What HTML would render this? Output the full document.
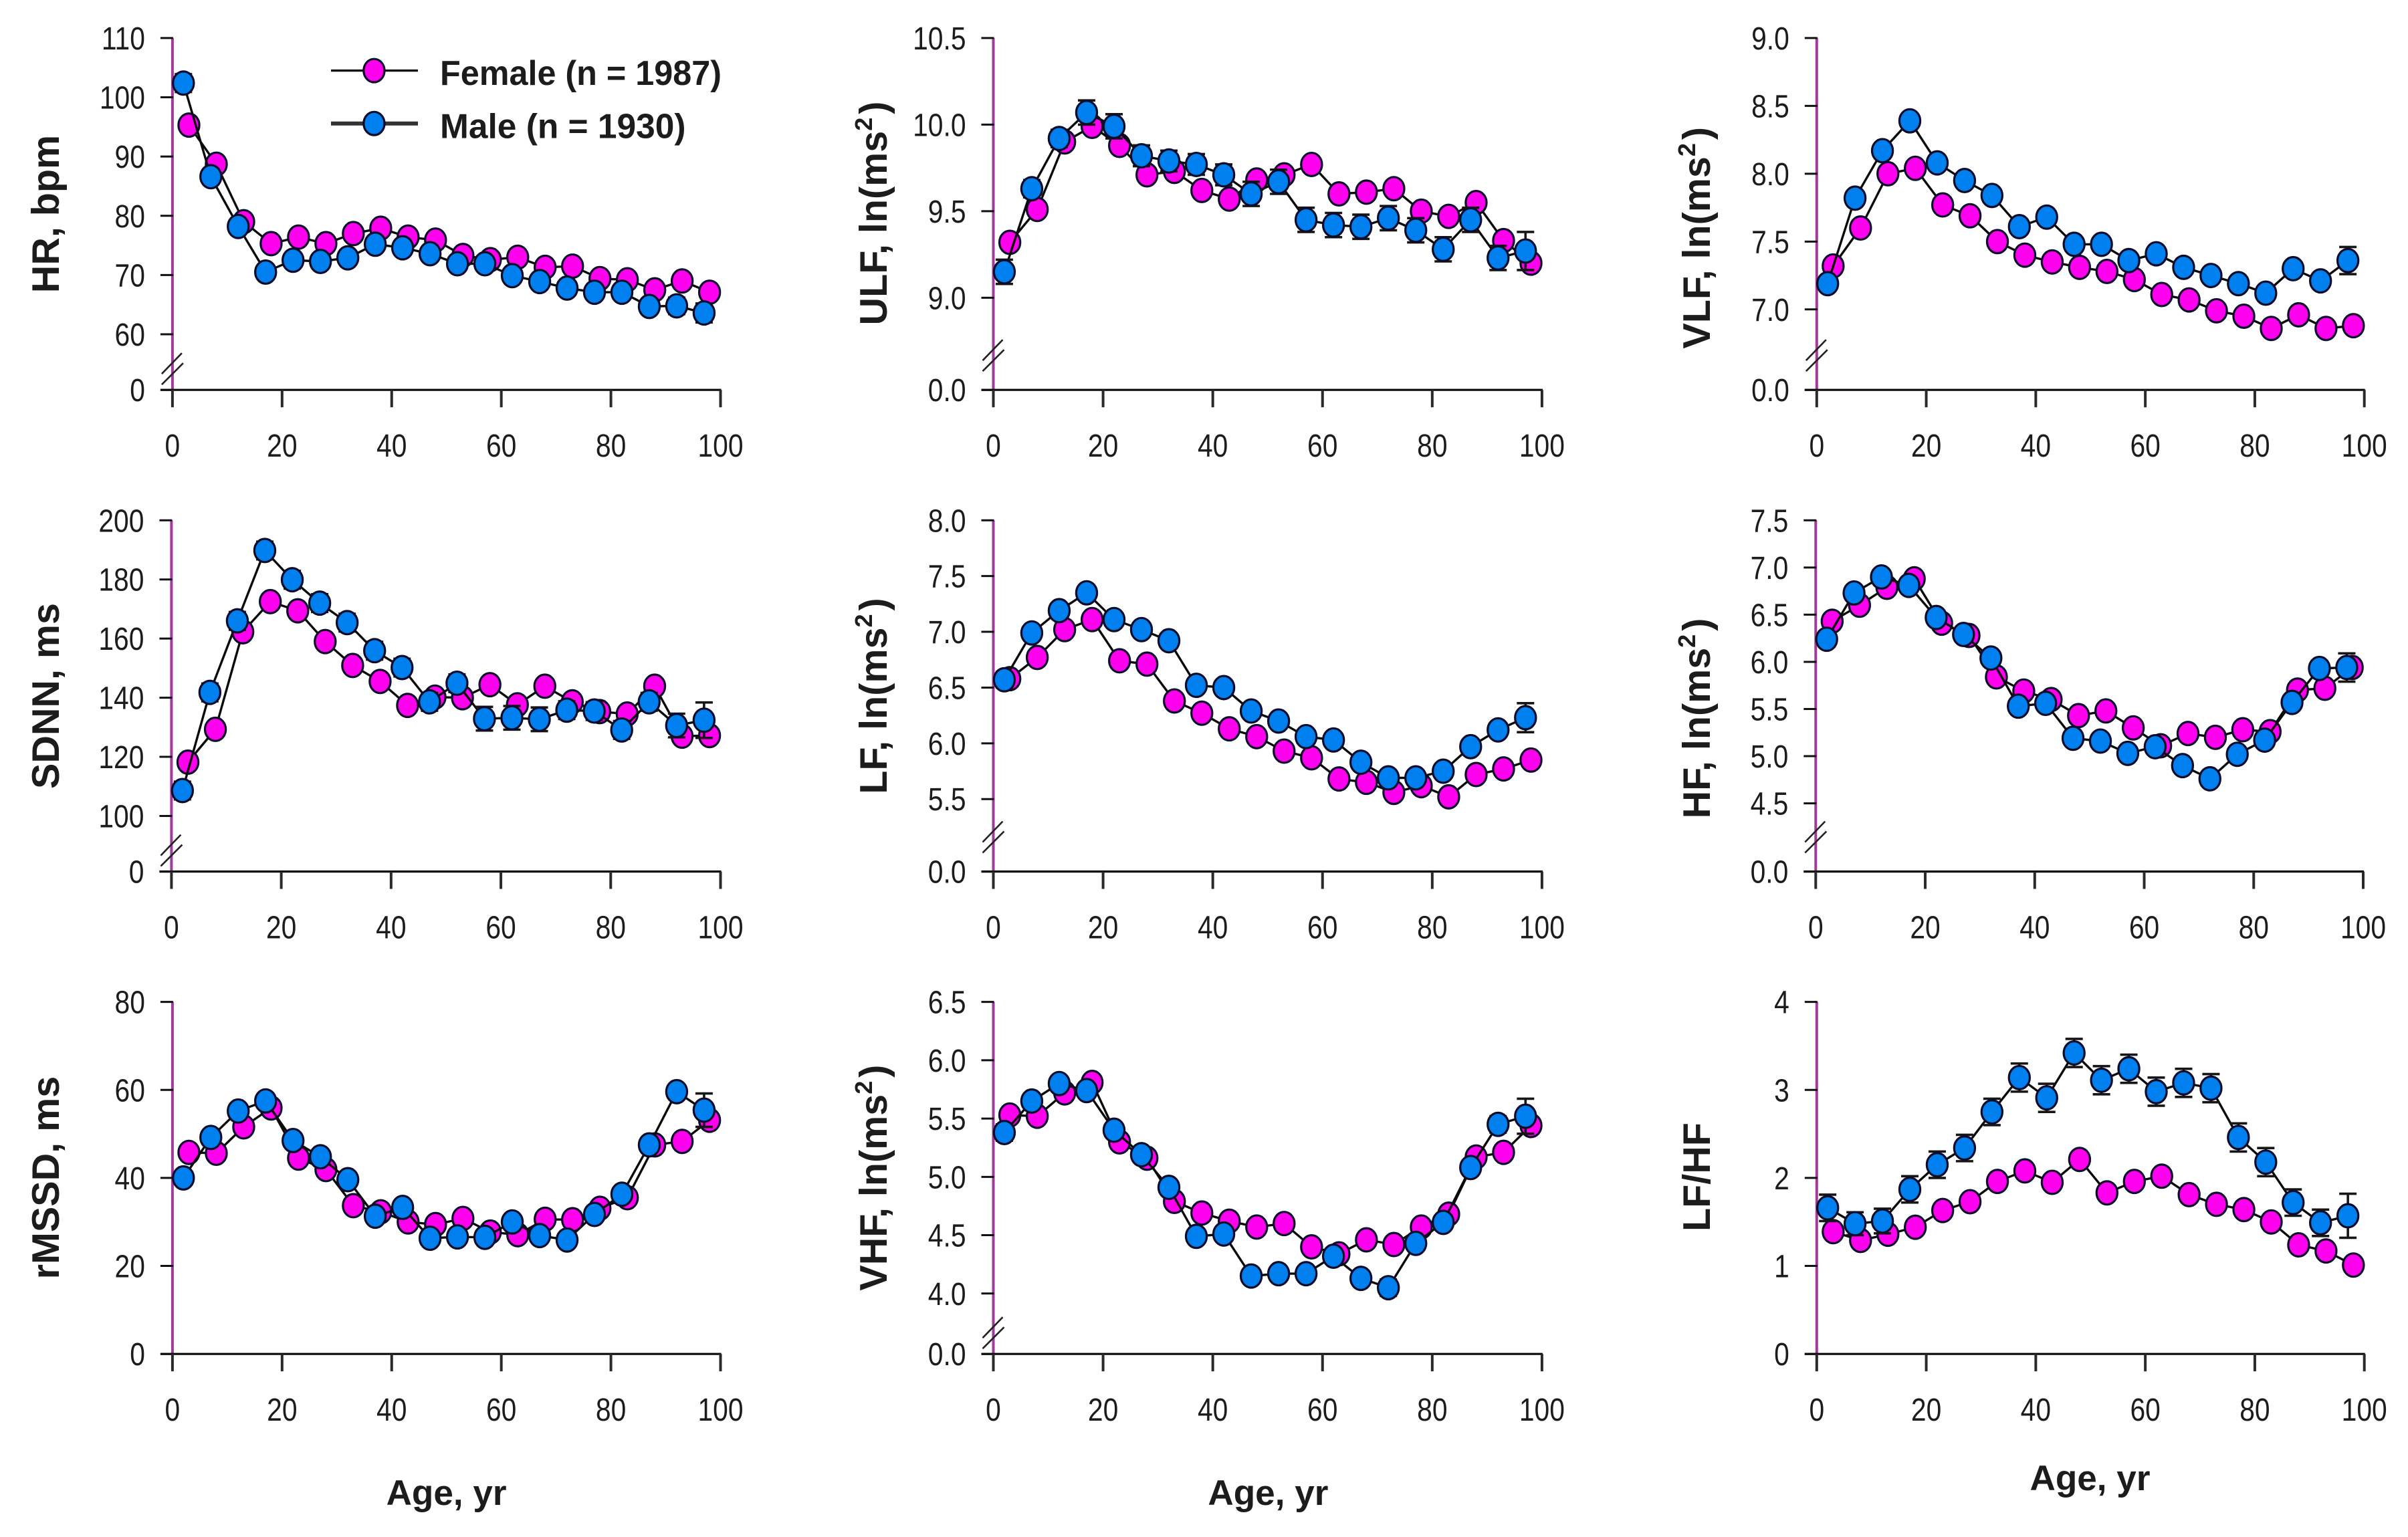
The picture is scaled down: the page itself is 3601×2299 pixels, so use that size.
<!DOCTYPE html>
<html lang="en">
<head>
<meta charset="utf-8">
<title>Heart rate variability by age and sex</title>
<style>
html,body{margin:0;padding:0;background:#fff}
svg{display:block}
text{font-family:"Liberation Sans",sans-serif;fill:#1c1c1c}
</style>
</head>
<body>
<svg id="chart" xmlns="http://www.w3.org/2000/svg" width="3601" height="2299" viewBox="0 0 3601 2299">
<rect width="3601" height="2299" fill="#fff"/>
</svg>
<script>
// ---- shared categories ----
const femaleAges = [3,8,13,18,23,28,33,38,43,48,53,58,63,68,73,78,83,88,93,98];
const maleAges = [2,7,12,17,22,27,32,37,42,47,52,57,62,67,72,77,82,87,92,97];
const xTicks = [0,20,40,60,80,100];

// ---- tick values ----
const hrTicks = [0,60,70,80,90,100,110];
const ulfTicks = [0,9,9.5,10,10.5];
const vlfTicks = [0,7,7.5,8,8.5,9];
const sdnnTicks = [0,100,120,140,160,180,200];
const lfTicks = [0,5.5,6,6.5,7,7.5,8];
const hfTicks = [0,4.5,5,5.5,6,6.5,7,7.5];
const rmssdTicks = [0,20,40,60,80];
const vhfTicks = [0,4,4.5,5,5.5,6,6.5];
const lfhfTicks = [0,1,2,3,4];

// ---- series values ----
const hrFemale = [95.3,88.7,79.0,75.3,76.4,75.3,77.0,77.9,76.4,75.9,73.3,72.6,73.0,71.3,71.5,69.4,69.2,67.5,69.0,67.1];
const hrMale = [102.4,86.6,78.2,70.5,72.5,72.3,72.9,75.2,74.6,73.6,71.9,71.9,69.9,68.9,67.8,67.1,67.1,64.7,64.8,63.6];
const hrMaleErr = [1.5,1.2,1.2,1.2,1.2,1.2,1.2,1.2,1.2,1.2,1.2,1.2,1.2,1.2,1.2,1.2,1.2,1.2,1.4,1.6];

const ulfFemale = [9.32,9.51,9.90,9.99,9.88,9.71,9.73,9.62,9.57,9.68,9.71,9.77,9.60,9.61,9.63,9.50,9.47,9.55,9.33,9.20];
const ulfMale = [9.15,9.63,9.92,10.07,9.99,9.82,9.79,9.77,9.71,9.60,9.67,9.45,9.42,9.41,9.46,9.39,9.28,9.45,9.23,9.27];
const ulfMaleErr = [0.07,0.05,0.05,0.07,0.07,0.06,0.06,0.06,0.06,0.07,0.07,0.07,0.07,0.07,0.07,0.07,0.07,0.07,0.07,0.11];

const vlfFemale = [7.32,7.60,8.00,8.04,7.77,7.69,7.50,7.40,7.35,7.31,7.28,7.22,7.11,7.07,6.99,6.95,6.86,6.96,6.86,6.88];
const vlfMale = [7.19,7.82,8.17,8.39,8.08,7.95,7.84,7.61,7.68,7.48,7.48,7.36,7.41,7.31,7.25,7.19,7.12,7.30,7.21,7.36];
const vlfMaleErr = [0.05,0.05,0.05,0.05,0.05,0.05,0.05,0.05,0.05,0.05,0.05,0.05,0.05,0.05,0.05,0.05,0.05,0.05,0.05,0.1];

const sdnnFemale = [118.2,129.3,162.3,172.5,169.4,159.0,150.9,145.5,137.4,140.2,140.0,144.4,137.6,143.9,138.6,135.3,134.5,143.9,127.0,127.2];
const sdnnMale = [108.6,141.8,166.0,189.8,179.9,172.0,165.4,155.9,150.2,138.6,144.9,132.9,133.2,132.7,135.8,135.5,129.1,138.6,130.6,132.4];
const sdnnMaleErr = [3,3,3,3,3,3,3,3,3,3,3,4,4,4,3,3,3,3,4,6];

const lfFemale = [6.58,6.77,7.02,7.11,6.74,6.71,6.38,6.27,6.13,6.06,5.93,5.87,5.68,5.65,5.56,5.62,5.52,5.72,5.77,5.85];
const lfMale = [6.57,6.99,7.19,7.35,7.11,7.02,6.92,6.52,6.50,6.29,6.20,6.06,6.03,5.83,5.69,5.69,5.75,5.97,6.12,6.23];
const lfMaleErr = [0.07,0.06,0.06,0.06,0.06,0.06,0.06,0.06,0.06,0.06,0.06,0.06,0.06,0.06,0.06,0.06,0.06,0.06,0.06,0.13];

const hfFemale = [6.43,6.60,6.79,6.88,6.41,6.28,5.84,5.69,5.60,5.43,5.48,5.30,5.11,5.24,5.20,5.28,5.26,5.70,5.72,5.94];
const hfMale = [6.24,6.73,6.90,6.81,6.47,6.29,6.04,5.53,5.56,5.19,5.16,5.03,5.10,4.90,4.76,5.02,5.17,5.57,5.93,5.94];
const hfMaleErr = [0.08,0.07,0.07,0.07,0.07,0.07,0.07,0.07,0.07,0.07,0.07,0.07,0.07,0.07,0.07,0.07,0.07,0.07,0.08,0.15];

const rmssdFemale = [45.8,45.6,51.6,55.9,44.5,41.9,33.7,32.3,30.0,29.4,30.8,27.7,27.1,30.6,30.5,33.1,35.5,47.5,48.3,53.1];
const rmssdMale = [40.0,49.2,55.2,57.5,48.5,44.8,39.6,31.3,33.3,26.3,26.6,26.5,30.0,26.9,25.9,31.7,36.3,47.5,59.6,55.4];
const rmssdMaleErr = [1.5,1.5,1.5,1.5,1.5,1.5,1.5,1.5,1.5,1.5,1.5,1.5,1.5,1.5,1.5,1.5,1.5,1.5,1.5,3.8];

const vhfFemale = [5.53,5.52,5.72,5.81,5.30,5.16,4.79,4.69,4.62,4.57,4.60,4.40,4.34,4.46,4.42,4.57,4.68,5.17,5.21,5.44];
const vhfMale = [5.38,5.65,5.80,5.74,5.40,5.19,4.91,4.49,4.51,4.15,4.17,4.17,4.32,4.13,4.05,4.43,4.61,5.08,5.45,5.52];
const vhfMaleErr = [0.07,0.06,0.06,0.06,0.06,0.06,0.06,0.06,0.06,0.06,0.06,0.06,0.06,0.06,0.07,0.06,0.06,0.06,0.07,0.15];

const lfhfFemale = [1.39,1.29,1.36,1.44,1.63,1.73,1.96,2.08,1.95,2.21,1.83,1.96,2.02,1.81,1.70,1.64,1.50,1.24,1.17,1.01];
const lfhfMale = [1.66,1.48,1.51,1.87,2.15,2.34,2.75,3.14,2.91,3.42,3.11,3.24,2.98,3.08,3.02,2.46,2.18,1.72,1.49,1.57];
const lfhfMaleErr = [0.15,0.13,0.14,0.15,0.15,0.15,0.15,0.16,0.16,0.16,0.16,0.16,0.16,0.16,0.16,0.16,0.16,0.15,0.15,0.25];

// ---- panel layout (geometry and references to the arrays above) ----
const panels = [
 {key:'hr',title:'HR, bpm',sup:false,ticks:hrTicks,dec:0,f:hrFemale,m:hrMale,e:hrMaleErr,x0:257.9,x1:1077.5,top:56.9,base:583.2,low:500,brk:0,tx:88,ty:320},
 {key:'ulf',title:'ULF, ln(ms',sup:true,ticks:ulfTicks,dec:1,f:ulfFemale,m:ulfMale,e:ulfMaleErr,x0:1485.5,x1:2305.9,top:56.9,base:583.2,low:445.4,brk:20,tx:1326,ty:319},
 {key:'vlf',title:'VLF, ln(ms',sup:true,ticks:vlfTicks,dec:1,f:vlfFemale,m:vlfMale,e:vlfMaleErr,x0:2716.8,x1:3535.7,top:56.9,base:583.2,low:462.8,brk:20,tx:2557,ty:355.8},
 {key:'sdnn',title:'SDNN, ms',sup:false,ticks:sdnnTicks,dec:0,f:sdnnFemale,m:sdnnMale,e:sdnnMaleErr,x0:256.4,x1:1077.5,top:778.3,base:1303.6,low:1220.5,brk:0,tx:88,ty:1041},
 {key:'lf',title:'LF, ln(ms',sup:true,ticks:lfTicks,dec:1,f:lfFemale,m:lfMale,e:lfMaleErr,x0:1485.5,x1:2305.9,top:778.3,base:1303.6,low:1195.2,brk:20,tx:1326,ty:1041},
 {key:'hf',title:'HF, ln(ms',sup:true,ticks:hfTicks,dec:1,f:hfFemale,m:hfMale,e:hfMaleErr,x0:2715.3,x1:3534,top:778.3,base:1303.6,low:1201.6,brk:20,tx:2557,ty:1074.5},
 {key:'rmssd',title:'rMSSD, ms',sup:false,ticks:rmssdTicks,dec:0,f:rmssdFemale,m:rmssdMale,e:rmssdMaleErr,x0:257.9,x1:1077.5,top:1498.6,base:2025.2,low:null,brk:0,tx:88,ty:1761.6,age:{x:667.6,y:2251}},
 {key:'vhf',title:'VHF, ln(ms',sup:true,ticks:vhfTicks,dec:1,f:vhfFemale,m:vhfMale,e:vhfMaleErr,x0:1485.5,x1:2305.9,top:1498.6,base:2025.2,low:1934.8,brk:0,tx:1326,ty:1761.6,age:{x:1896.4,y:2251}},
 {key:'lfhf',title:'LF/HF',sup:false,ticks:lfhfTicks,dec:0,f:lfhfFemale,m:lfhfMale,e:lfhfMaleErr,x0:2716.8,x1:3535.7,top:1498.6,base:2025.2,low:null,brk:0,tx:2557,ty:1760.5,age:{x:3125.5,y:2229}}
];

const FEMALE_FILL = '#ff00ee';
const MALE_FILL = '#007fee';
const NS = 'http://www.w3.org/2000/svg';
const svg = document.getElementById('chart');

function mk(parent, tag, attrs){
  const n = document.createElementNS(NS, tag);
  for (const k in attrs) n.setAttribute(k, attrs[k]);
  parent.appendChild(n);
  return n;
}
function xAxisFn(p){ return v => p.x0 + (v / 100) * (p.x1 - p.x0); }
function yAxisFn(p){
  const nz = p.ticks.filter(t => t > 0);
  const high = nz[nz.length - 1];
  const lowV = p.low === null ? 0 : nz[0];
  const lowY = p.low === null ? p.base : p.low;
  return v => v === 0 ? p.base : lowY + (v - lowV) * (p.top - lowY) / (high - lowV);
}
function label(parent, str, x, y, anchor, size, sx){
  const t = mk(parent, 'text', {transform:`translate(${x},${y}) scale(${sx},1)`, 'text-anchor':anchor, 'font-size':size});
  t.textContent = str;
  return t;
}
function drawSeries(g, ages, vals, fill, xf, yf, errs){
  const pts = ages.map((a, i) => `${xf(a).toFixed(1)},${yf(vals[i]).toFixed(1)}`).join(' ');
  const line = mk(g, 'polyline', {points:pts, fill:'none', stroke:'#0a0a0a', 'stroke-width':3.4});
  
  
  if (errs) {
    ages.forEach((a, i) => {
      const cx = xf(a), up = yf(vals[i] + errs[i]), dn = yf(vals[i] - errs[i]);
      const eb = mk(g, 'path', {d:`M${cx} ${up}V${dn}M${cx - 13} ${up}H${cx + 13}M${cx - 13} ${dn}H${cx + 13}`, fill:'none', stroke:'#161616', 'stroke-width':3.6});
      
      
    });
  }
  ages.forEach((a, i) => {
    const c = mk(g, 'ellipse', {cx:xf(a), cy:yf(vals[i]), rx:15.6, ry:17.4, fill:fill, stroke:'#0c0c28', 'stroke-width':3.2});
    
    
  });
}

panels.forEach(p => {
  const xf = xAxisFn(p), yf = yAxisFn(p);
  const g = mk(svg, 'g', {});
  
  

  // y axis
  const yLine = mk(g, 'line', {x1:p.x0, x2:p.x0, y1:p.top, y2:p.base, stroke:'#a23a9c', 'stroke-width':4});
  
  

  p.ticks.forEach(t => {
    const y = yf(t);
    const tk = mk(g, 'line', {x1:p.x0 - 18, x2:p.x0 + 1, y1:y, y2:y, stroke:'#111', 'stroke-width':3});
    
    
    const tl = label(g, t.toFixed(p.dec), p.x0 - 41, y + 17, 'end', 48, 0.85);
    
    
  });

  // axis break marks
  if (p.low !== null) {
    const b = p.base - p.brk;
    const br = mk(g, 'path', {d:`M${p.x0 - 16} ${b - 24}L${p.x0 + 14} ${b - 55}M${p.x0 - 16} ${b - 8}L${p.x0 + 16} ${b - 40}`, stroke:'#222', 'stroke-width':2.6, fill:'none'});
    
    
  }

  // x axis
  const xLine = mk(g, 'line', {x1:p.x0 - 18, x2:p.x1 + 1, y1:p.base, y2:p.base, stroke:'#0a0a0a', 'stroke-width':3.2});
  
  

  xTicks.forEach(t => {
    const x = xf(t);
    const tk = mk(g, 'line', {x1:x, x2:x, y1:p.base, y2:p.base + 26, stroke:'#2a2a2a', 'stroke-width':4});
    
    
    const tl = label(g, String(t), x, p.base + 100, 'middle', 48, 0.85);
    
    
  });

  // y axis title
  const title = mk(g, 'text', {transform:`translate(${p.tx},${p.ty}) rotate(-90)`, 'text-anchor':'middle', 'font-size':57.5, 'font-weight':'bold'});
  
  
  title.appendChild(document.createTextNode(p.title));
  if (p.sup) {
    const s = mk(title, 'tspan', {dy:-22, 'font-size':36});
    s.textContent = '2';
    const c = mk(title, 'tspan', {dy:22, dx:5});
    c.textContent = ')';
  }

  // x axis title
  if (p.age) {
    const at = mk(g, 'text', {x:p.age.x, y:p.age.y, 'text-anchor':'middle', 'font-size':53, 'font-weight':'bold', textLength:180, lengthAdjust:'spacingAndGlyphs'});
    
    
    at.textContent = 'Age, yr';
  }

  // series
  const gf = mk(g, 'g', {});
  
  
  drawSeries(gf, femaleAges, p.f, FEMALE_FILL, xf, yf, null);
  const gm = mk(g, 'g', {});
  
  
  drawSeries(gm, maleAges, p.m, MALE_FILL, xf, yf, p.e);
});

// legend
const legend = mk(svg, 'g', {});



const lfLine = mk(legend, 'line', {x1:495, x2:625, y1:105.6, y2:105.6, stroke:'#111', 'stroke-width':3.4});


const lfDot = mk(legend, 'ellipse', {cx:559.4, cy:105.6, rx:15.6, ry:17.4, fill:FEMALE_FILL, stroke:'#0c0c28', 'stroke-width':3.2});


const lfText = mk(legend, 'text', {x:658, y:127, 'font-size':52, 'font-weight':'bold', textLength:421, lengthAdjust:'spacingAndGlyphs'});


lfText.textContent = 'Female (n = 1987)';

const lmLine = mk(legend, 'line', {x1:495, x2:625, y1:184.7, y2:184.7, stroke:'#333', 'stroke-width':6});


const lmDot = mk(legend, 'ellipse', {cx:559.4, cy:184.7, rx:15.6, ry:17.4, fill:MALE_FILL, stroke:'#0c0c28', 'stroke-width':3.2});


const lmText = mk(legend, 'text', {x:658, y:206.6, 'font-size':52, 'font-weight':'bold', textLength:367.5, lengthAdjust:'spacingAndGlyphs'});


lmText.textContent = 'Male (n = 1930)';
</script>
</body>
</html>
